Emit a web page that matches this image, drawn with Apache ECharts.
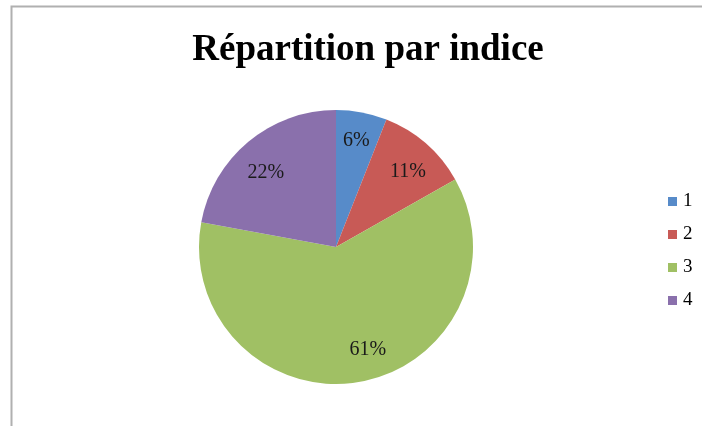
<!DOCTYPE html>
<html><head><meta charset="utf-8">
<script src="https://cdn.jsdelivr.net/npm/echarts@6/dist/echarts.min.js"></script>
<style>html,body{margin:0;padding:0;background:#fff}#c{width:702px;height:426px}</style>
</head><body><div id="c"></div>
<script>
const categories = ['1','2','3','4'];
const values = [6.0, 10.8, 61.1, 22.1];
const labels = ['6%','11%','61%','22%'];
const colors = ['#578BC9','#C85A56','#A0C064','#8A70AC'];

const chart = echarts.init(document.getElementById('c'), null, {renderer:'canvas'});
const data = categories.map((n,i)=>({name:n, value:values[i], itemStyle:{color:colors[i]}}));
const serif = '"Liberation Serif","DejaVu Serif",serif';
const nudge = [[0,0],[1,6],[14,-4],[-1,9]];
chart.setOption({
  animation:false,
  title:{text:'Répartition par indice', left:363, top:27, textAlign:'center',
    textStyle:{fontFamily:serif, fontWeight:'bold', fontSize:37, color:'#000'}},
  graphic:[{type:'rect', shape:{x:11.5,y:6.5,width:800,height:800}, style:{fill:'none', stroke:'#b0b0b0', lineWidth:2}}],
  legend:{orient:'vertical', left:663, top:187, itemWidth:9, itemHeight:9, itemGap:14,
    icon:'rect', data:categories,
    textStyle:{fontFamily:serif, fontSize:19, color:'#000', padding:[0,0,0,1]}},
  series:[
    {type:'pie', center:[336,247], radius:137, startAngle:90, clockwise:true,
     data:data, label:{show:false}, labelLine:{show:false}, silent:true},
    {type:'pie', center:[336,247], radius:[73,137], startAngle:90, clockwise:true, silent:true,
     legendHoverLink:false,
     data:categories.map((n,i)=>({name:n, value:values[i], itemStyle:{color:'rgba(0,0,0,0)'},
       label:{formatter:labels[i]}})),
     label:{show:true, position:'inside', fontFamily:serif, fontSize:20, color:'#1a1a1a'},
     labelLayout:function(p){ const d = nudge[p.dataIndex]; return {dx:d[0], dy:d[1]}; },
     labelLine:{show:false}}
  ]
});
</script></body></html>
